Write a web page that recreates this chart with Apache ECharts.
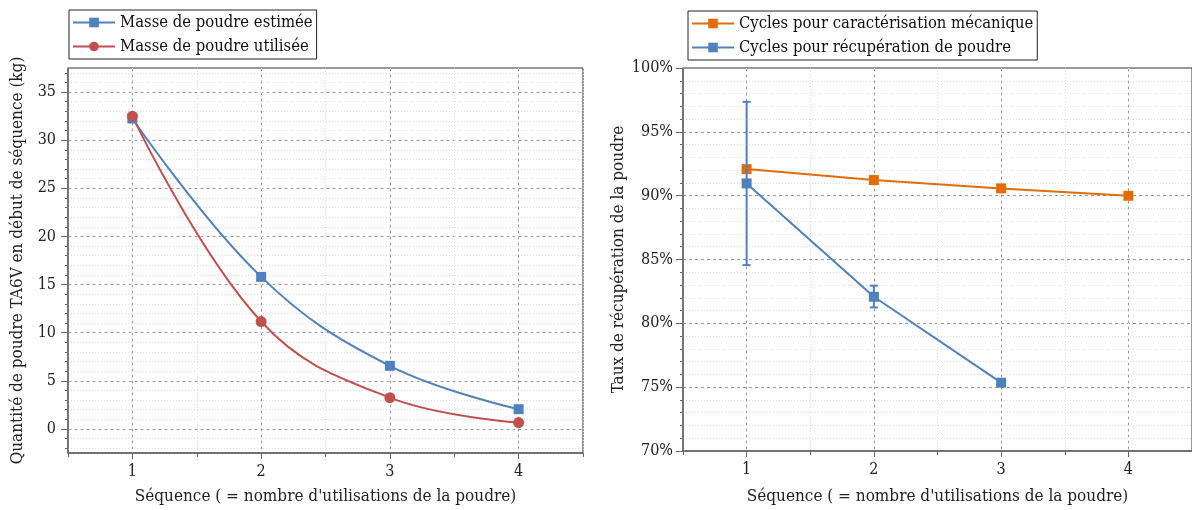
<!DOCTYPE html>
<html>
<head>
<meta charset="utf-8">
<script src="https://cdn.jsdelivr.net/npm/echarts@6/dist/echarts.min.js"></script>
<style>
  html, body { margin: 0; padding: 0; background: #fff; }
  #main { width: 1192px; height: 510px; }
</style>
</head>
<body>
<div id="main"></div>
<script>
// left chart : masse de poudre (kg)
var sequences = [1, 2, 3, 4];
var masseEstimee = [32.25, 15.8, 6.56, 2.05];
var masseUtilisee = [32.5, 11.16, 3.25, 0.66];
var kgTicks = [0, 5, 10, 15, 20, 25, 30, 35];
var kgMinorTicks = [-2, -1, 0, 1, 2, 3, 4, 5, 6, 7, 8, 9, 10, 11, 12, 13, 14, 15, 16, 17, 18, 19,
  20, 21, 22, 23, 24, 25, 26, 27, 28, 29, 30, 31, 32, 33, 34, 35, 36, 37];

// right chart : taux de recuperation (%)
var cyclesMeca = [92.08, 91.22, 90.57, 89.99];
var cyclesRecup = [90.96, 82.08, 75.35];
var recupErrLow = [84.56, 81.25];
var recupErrHigh = [97.35, 82.95];

var seqTicks = [1, 2, 3, 4];

var BLUE = '#4f81bd', RED = '#c0504d', ORANGE = '#e36c09';
var FONT = '"DejaVu Serif Condensed", "Liberation Serif", serif';

var chart = echarts.init(document.getElementById('main'), null, { renderer: 'canvas' });

function line(data) {
  return sequences.slice(0, data.length).map(function (s, i) { return [s, data[i]]; });
}

function majorX(gridIndex, gap) {
  return {
    type: 'value', gridIndex: gridIndex, position: 'bottom', min: 0.5, max: 4.5,
    name: "Séquence ( = nombre d'utilisations de la poudre)",
    nameLocation: 'middle', nameGap: gap,
    nameTextStyle: { fontFamily: FONT, fontSize: 17, color: '#222' },
    axisLine: { onZero: false, lineStyle: { color: '#666', width: 1.5 } },
    axisTick: { customValues: seqTicks, length: 6, lineStyle: { color: '#666' } },
    axisLabel: { customValues: seqTicks, fontFamily: FONT, fontSize: 16, color: '#222', margin: 11 },
    splitLine: { show: true, lineStyle: { color: '#999', type: [3, 3], width: 1 } }
  };
}
function minorX(gridIndex) {
  return {
    type: 'value', gridIndex: gridIndex, position: 'bottom', min: 0.5, max: 4.5, interval: 0.5,
    axisLine: { show: false, onZero: false },
    axisTick: { length: 4, lineStyle: { color: '#666' } },
    axisLabel: { show: false },
    splitLine: { show: true, lineStyle: { color: '#ddd', type: [1, 2], width: 1 } }
  };
}

var option = {
  animation: false,
  textStyle: { fontFamily: FONT },
  legend: [
    {
      left: 69, top: 10, orient: 'vertical', itemWidth: 42, itemHeight: 12, itemGap: 7,
      padding: [4, 4, 4, 3], borderColor: '#222', borderWidth: 1,
      textStyle: { fontFamily: FONT, fontSize: 16.5, color: '#111' },
      data: ['Masse de poudre estimée', 'Masse de poudre utilisée']
    },
    {
      left: 688, top: 11, orient: 'vertical', itemWidth: 42, itemHeight: 12, itemGap: 7,
      padding: [4, 4, 4, 3], borderColor: '#222', borderWidth: 1,
      textStyle: { fontFamily: FONT, fontSize: 16.5, color: '#111' },
      data: ['Cycles pour caractérisation mécanique', 'Cycles pour récupération de poudre']
    }
  ],
  grid: [
    { left: 68, right: 609, top: 68, bottom: 57, show: true, borderColor: '#333', borderWidth: 1 },
    { left: 683, right: -4, top: 68, bottom: 59, show: true, borderColor: '#333', borderWidth: 1 }
  ],
  xAxis: [majorX(0, 35), minorX(0), majorX(1, 37), minorX(1)],
  yAxis: [
    {
      type: 'value', gridIndex: 0, position: 'left', min: -2.5, max: 37.5,
      name: 'Quantité de poudre TA6V en début de séquence (kg)',
      nameLocation: 'middle', nameGap: 42,
      nameTextStyle: { fontFamily: FONT, fontSize: 17, color: '#222' },
      axisLine: { show: true, onZero: false, lineStyle: { color: '#666', width: 1.5 } },
      axisTick: { show: true, customValues: kgTicks, length: 7, lineStyle: { color: '#666' } },
      axisLabel: { customValues: kgTicks, fontFamily: FONT, fontSize: 16, color: '#222', margin: 12 },
      splitLine: { show: true, lineStyle: { color: '#999', type: [3, 3], width: 1 } }
    },
    {
      type: 'value', gridIndex: 0, position: 'left', min: -2.5, max: 37.5,
      axisLine: { show: false, onZero: false },
      axisTick: { show: true, customValues: kgMinorTicks, length: 3, lineStyle: { color: '#666' } },
      axisLabel: { show: false },
      splitLine: { show: true, lineStyle: { color: '#ddd', type: [1, 2], width: 1 } }
    },
    {
      type: 'value', gridIndex: 1, position: 'left', min: 70, max: 100, interval: 5,
      name: 'Taux de récupération de la poudre',
      nameLocation: 'middle', nameGap: 56,
      nameTextStyle: { fontFamily: FONT, fontSize: 17, color: '#222' },
      axisLine: { show: true, onZero: false, lineStyle: { color: '#666', width: 1.5 } },
      axisTick: { show: true, length: 7, lineStyle: { color: '#666' } },
      minorTick: { show: true, splitNumber: 5, length: 3, lineStyle: { color: '#666' } },
      axisLabel: { formatter: '{value}%', fontFamily: FONT, fontSize: 16, color: '#222', margin: 10 },
      splitLine: { show: true, lineStyle: { color: '#999', type: [3, 3], width: 1 } },
      minorSplitLine: { show: true, lineStyle: { color: '#ddd', type: [1, 2], width: 1 } }
    }
  ],
  series: [
    {
      name: 'Masse de poudre estimée', type: 'line', xAxisIndex: 0, yAxisIndex: 0,
      data: line(masseEstimee), smooth: 0.4, symbol: 'rect', symbolSize: 10,
      itemStyle: { color: BLUE }, lineStyle: { color: BLUE, width: 2 }
    },
    {
      name: 'Masse de poudre utilisée', type: 'line', xAxisIndex: 0, yAxisIndex: 0,
      data: line(masseUtilisee), smooth: 0.4, symbol: 'circle', symbolSize: 11,
      itemStyle: { color: RED }, lineStyle: { color: RED, width: 2 }
    },
    {
      name: 'Cycles pour caractérisation mécanique', type: 'line', xAxisIndex: 2, yAxisIndex: 2,
      data: line(cyclesMeca), symbol: 'rect', symbolSize: 10,
      itemStyle: { color: ORANGE }, lineStyle: { color: ORANGE, width: 2 }
    },
    {
      name: 'Cycles pour récupération de poudre', type: 'line', xAxisIndex: 2, yAxisIndex: 2,
      data: line(cyclesRecup), symbol: 'rect', symbolSize: 10, z: 3,
      itemStyle: { color: BLUE }, lineStyle: { color: BLUE, width: 2 }
    },
    {
      type: 'custom', xAxisIndex: 2, yAxisIndex: 2, z: 4,
      data: recupErrLow.map(function (v, i) { return [sequences[i], v, recupErrHigh[i]]; }),
      encode: { x: 0, y: [1, 2] },
      renderItem: function (params, api) {
        var x = api.value(0);
        var lo = api.coord([x, api.value(1)]);
        var hi = api.coord([x, api.value(2)]);
        var w = 4;
        var st = { stroke: BLUE, lineWidth: 2 };
        return {
          type: 'group',
          children: [
            { type: 'line', shape: { x1: lo[0], y1: lo[1], x2: hi[0], y2: hi[1] }, style: st },
            { type: 'line', shape: { x1: lo[0] - w, y1: lo[1], x2: lo[0] + w, y2: lo[1] }, style: st },
            { type: 'line', shape: { x1: hi[0] - w, y1: hi[1], x2: hi[0] + w, y2: hi[1] }, style: st }
          ]
        };
      }
    }
  ]
};

chart.setOption(option);
</script>
</body>
</html>
